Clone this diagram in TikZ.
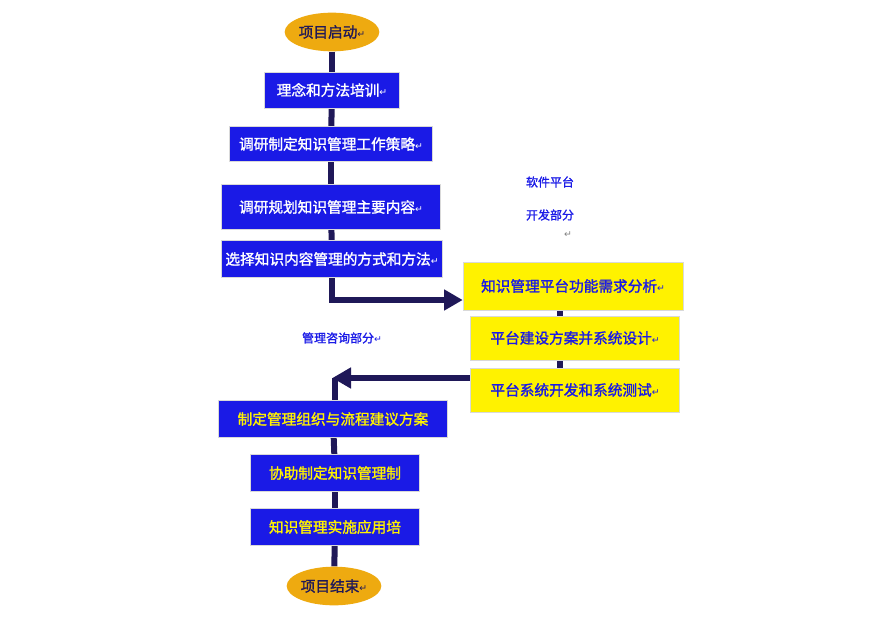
\documentclass[tikz,border=0pt]{standalone}
\usepackage{fontspec}
\newfontfamily\cjk[FakeBold=1.5]{Noto Sans CJK SC}
\newfontfamily\sym{DejaVu Sans}
\usetikzlibrary{arrows.meta,shapes.geometric,backgrounds}
\definecolor{boxblue}{HTML}{1A1AE6}
\definecolor{linenavy}{HTML}{1F1858}
\definecolor{gold}{HTML}{EEAA10}
\newcommand{\ret}{{\sym\scriptsize ↵}}
\tikzset{
  bluebox/.style={draw=gray!30, fill=boxblue, text=white, font=\cjk\fontsize{11}{12}\selectfont, inner sep=0pt},
  yellowbox/.style={draw=gray!30, fill=yellow, text=boxblue, font=\cjk\fontsize{11}{12}\selectfont, inner sep=0pt},
  endpoint/.style={ellipse, fill=gold, text=linenavy, font=\cjk\fontsize{11}{12}\selectfont, minimum width=71pt, minimum height=29pt, inner sep=0pt},
  link/.style={linenavy, line width=4.5pt},
  label/.style={text=boxblue, font=\cjk\fontsize{9}{10}\selectfont}
}
\begin{document}
\begin{tikzpicture}[x=0.75pt,y=-0.75pt]
\useasboundingbox (0,0) rectangle (892,628);
% left column
\node (start) at (332,32) [endpoint]{项目启动\ret};
\node (b1) at (332,90) [bluebox, minimum width=101pt, minimum height=27pt]{理念和方法培训\ret};
\node (b2) at (331,144) [bluebox, minimum width=152pt, minimum height=26pt]{调研制定知识管理工作策略\ret};
\node (b3) at (331,207) [bluebox, minimum width=164pt, minimum height=34pt]{调研规划知识管理主要内容\ret};
\node (b4) at (332,259) [bluebox, minimum width=166pt, minimum height=28pt]{选择知识内容管理的方式和方法\ret};
% right column
\node (y1) at (573,286) [yellowbox, minimum width=165pt, minimum height=36pt]{知识管理平台功能需求分析\ret};
\node (y2) at (575,338) [yellowbox, minimum width=157pt, minimum height=33pt]{平台建设方案并系统设计\ret};
\node (y3) at (575,390) [yellowbox, minimum width=157pt, minimum height=33pt]{平台系统开发和系统测试\ret};
% lower column
\node (b5) at (333,419) [bluebox, text=yellow, minimum width=172pt, minimum height=28pt]{制定管理组织与流程建议方案};
\node (b6) at (335,473) [bluebox, text=yellow, minimum width=127pt, minimum height=28pt]{协助制定知识管理制};
\node (b7) at (335,527) [bluebox, text=yellow, minimum width=127pt, minimum height=28pt]{知识管理实施应用培};
\node (stop) at (334,586) [endpoint]{项目结束\ret};
% labels
\node (soft1) at (550,182) [label]{软件平台};
\node (soft2) at (550,215) [label]{开发部分};
\node (soft3) at (568,235) [text=gray]{\ret};
\node (consult) at (342,338) [label]{管理咨询部分\ret};
% links
\coordinate (turn1) at (332,300);
\coordinate (turn2) at (335,378);
\coordinate (mid) at (560,0);
\begin{scope}[on background layer]
\draw[link] (start) -- (b1);
\draw[link] (b1) -- (b2);
\draw[link] (b2) -- (b3);
\draw[link] (b3) -- (b4);
\draw[link, -{Triangle[length=14pt,width=15pt]}] (b4.south -| turn1) -- (turn1) -- (y1.west |- turn1);
\draw[link] (y1.south -| mid) -- (y2.north -| mid);
\draw[link] (y2.south -| mid) -- (y3.north -| mid);
\draw[link] (b5.north -| turn2) -- (turn2);
\draw[link, -{Triangle[length=14pt,width=15pt]}] (y3.west |- turn2) -- ([xshift=-2pt]turn2);
\draw[link] (b5) -- (b6);
\draw[link] (b6) -- (b7);
\draw[link] (b7) -- (stop);
\end{scope}
\end{tikzpicture}
\end{document}
